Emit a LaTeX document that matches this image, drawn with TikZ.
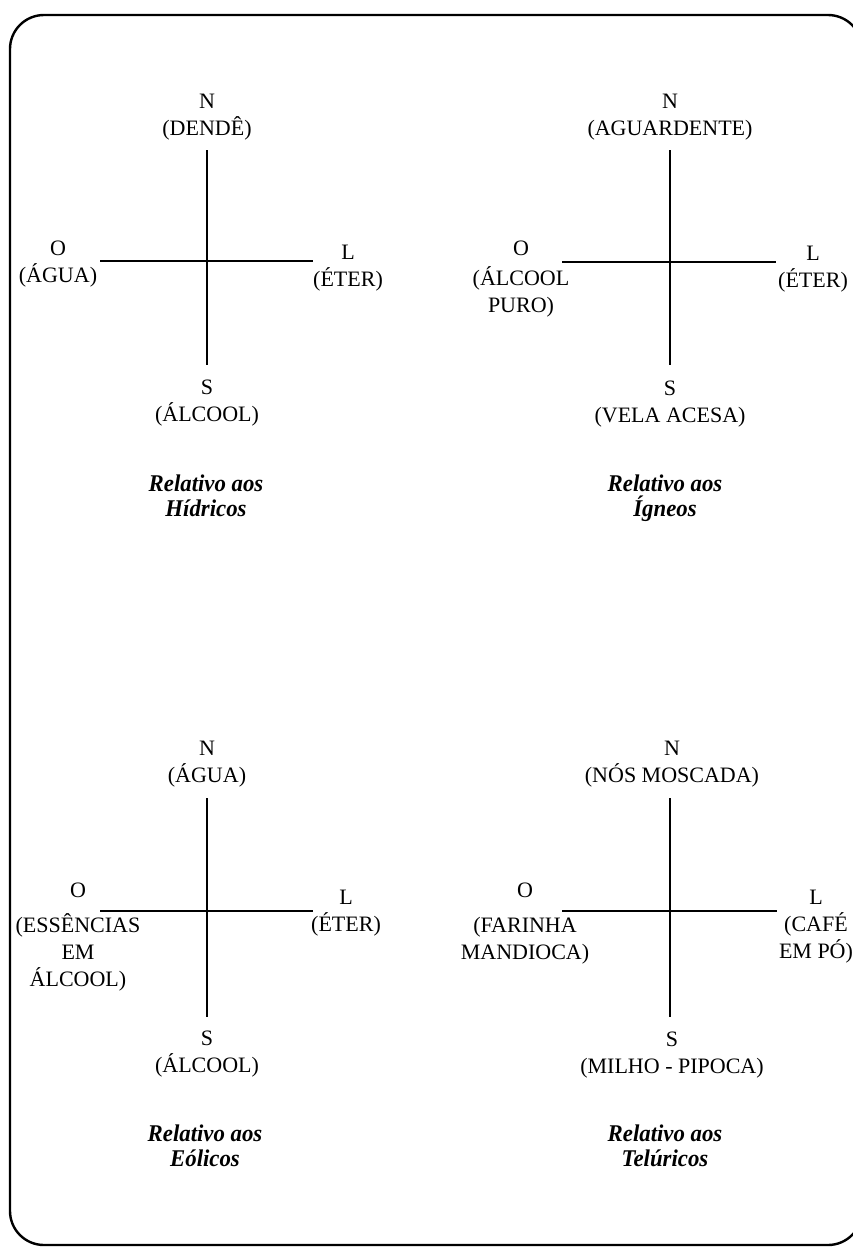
\documentclass[tikz,border=0pt]{standalone}
\usepackage{fontspec}
\setmainfont{Liberation Serif}
\newfontfamily\titfont[FakeStretch=0.95]{Liberation Serif}

\tikzset{
  rotulo/.style={anchor=north, inner sep=0pt, align=center,
    font=\fontsize{11}{13.5}\selectfont},
  titulo/.style={anchor=north, inner sep=0pt, align=center,
    font=\titfont\fontsize{12}{12.5}\selectfont\bfseries\itshape},
  eixo/.style={line width=1pt}
}

\begin{document}
\begin{tikzpicture}[x=0.5pt, y=-0.5pt]
    \useasboundingbox (0,0) rectangle (852,1248);

    % Moldura
    \draw[line width=1.2pt, rounded corners=17pt] (10,15) rectangle (862,1245);

    % Hídricos
    \coordinate (hn) at (207,150);
    \coordinate (hs) at (207,365);
    \coordinate (ho) at (100,261);
    \coordinate (hl) at (313,261);
    \draw[eixo] (hn) -- (hs);
    \draw[eixo] (ho) -- (hl);
    \node[rotulo] (hN) at (207,94) {N\\(DENDÊ)};
    \node[rotulo] (hO) at (58,241) {O\\(ÁGUA)};
    \node[rotulo] (hL) at (348,245) {L\\(ÉTER)};
    \node[rotulo] (hS) at (207,380) {S\\(ÁLCOOL)};
    \node[titulo] (hT) at (206,474) {Relativo aos\\Hídricos};

    % Ígneos
    \coordinate (in) at (670,150);
    \coordinate (is) at (670,365);
    \coordinate (io) at (562,262);
    \coordinate (il) at (776,262);
    \draw[eixo] (in) -- (is);
    \draw[eixo] (io) -- (il);
    \node[rotulo] (iN) at (670,94) {N\\(AGUARDENTE)};
    \node[rotulo] (iO) at (521,241) {O\\[1.5pt](ÁLCOOL\\PURO)};
    \node[rotulo] (iL) at (813,246) {L\\(ÉTER)};
    \node[rotulo] (iS) at (670,381) {S\\(VELA ACESA)};
    \node[titulo] (iT) at (665,474) {Relativo aos\\Ígneos};

    % Eólicos
    \coordinate (en) at (207,798);
    \coordinate (es) at (207,1017);
    \coordinate (eo) at (100,911);
    \coordinate (el) at (313,911);
    \draw[eixo] (en) -- (es);
    \draw[eixo] (eo) -- (el);
    \node[rotulo] (eN) at (207,741) {N\\(ÁGUA)};
    \node[rotulo] (eO) at (78,883) {O\\[4pt](ESSÊNCIAS\\EM\\ÁLCOOL)};
    \node[rotulo] (eL) at (346,890) {L\\(ÉTER)};
    \node[rotulo] (eS) at (207,1031) {S\\(ÁLCOOL)};
    \node[titulo] (eT) at (205,1124) {Relativo aos\\Eólicos};

    % Telúricos
    \coordinate (tn) at (670,798);
    \coordinate (ts) at (670,1017);
    \coordinate (to) at (562,911);
    \coordinate (tl) at (777,911);
    \draw[eixo] (tn) -- (ts);
    \draw[eixo] (to) -- (tl);
    \node[rotulo] (tN) at (672,741) {N\\(NÓS MOSCADA)};
    \node[rotulo] (tO) at (525,883) {O\\[4pt](FARINHA\\MANDIOCA)};
    \node[rotulo] (tL) at (816,890) {L\\(CAFÉ\\EM PÓ)};
    \node[rotulo] (tS) at (672,1032) {S\\(MILHO - PIPOCA)};
    \node[titulo] (tT) at (665,1124) {Relativo aos\\Telúricos};
\end{tikzpicture}
\end{document}
